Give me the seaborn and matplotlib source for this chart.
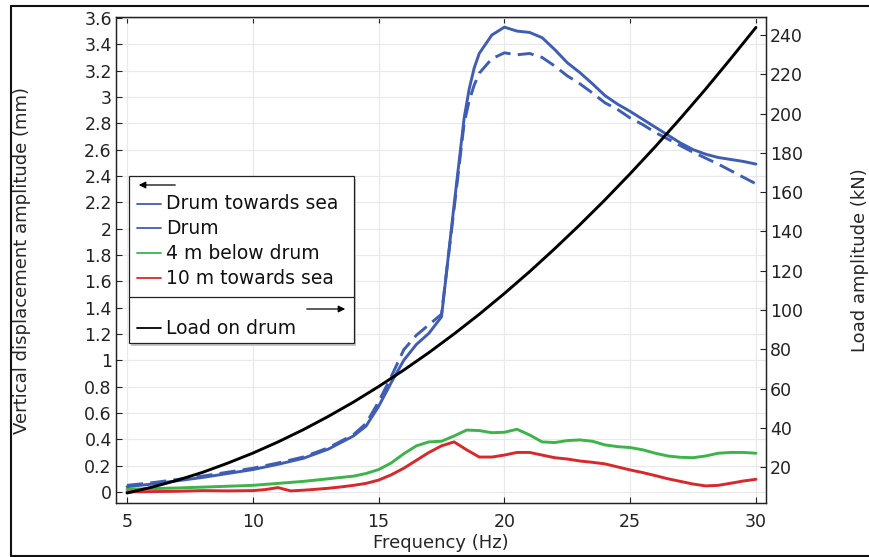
import matplotlib
matplotlib.use("Agg")
import matplotlib.pyplot as plt
import seaborn as sns
import pandas as pd
from matplotlib.lines import Line2D
from matplotlib.patches import Rectangle, FancyArrowPatch
from matplotlib.ticker import FormatStrFormatter, FixedLocator

# ---------------- data ----------------
freq_drum = [5, 6, 7, 8, 9, 10, 11, 12, 13, 14, 14.5, 15, 15.5, 16, 16.5, 17, 17.5,
             18, 18.4, 18.6, 18.8, 19, 19.5, 20, 20.5, 21, 21.5, 22, 22.5, 23, 23.5,
             24, 24.5, 25, 25.5, 26, 26.5, 27, 27.5, 28, 28.5, 29, 29.5, 30]
drum_towards_sea = [0.04, 0.06, 0.085, 0.11, 0.14, 0.17, 0.21, 0.255, 0.325, 0.425, 0.50,
                    0.65, 0.83, 1.0, 1.12, 1.205, 1.33, 2.18, 2.84, 3.06, 3.22, 3.33,
                    3.47, 3.53, 3.50, 3.49, 3.45, 3.36, 3.26, 3.185, 3.10, 3.01, 2.945,
                    2.89, 2.83, 2.77, 2.71, 2.65, 2.60, 2.565, 2.54, 2.525, 2.51, 2.49]
drum = [0.05, 0.07, 0.095, 0.12, 0.15, 0.18, 0.22, 0.265, 0.335, 0.435, 0.52,
        0.685, 0.875, 1.08, 1.19, 1.27, 1.35, 2.15, 2.80, 2.97, 3.09, 3.18,
        3.29, 3.335, 3.32, 3.33, 3.30, 3.235, 3.16, 3.10, 3.03, 2.955, 2.905,
        2.84, 2.79, 2.73, 2.68, 2.63, 2.58, 2.535, 2.49, 2.44, 2.39, 2.34]

freq_green = [5, 7, 10, 11, 12, 13, 14, 14.5, 15, 15.5, 16, 16.5, 17, 17.5, 18, 18.5,
              19, 19.5, 20, 20.5, 21, 21.5, 22, 22.5, 23, 23.5, 24, 24.5, 25, 25.5,
              26, 26.5, 27, 27.5, 28, 28.5, 29, 29.5, 30]
below_drum_4m = [0.02, 0.03, 0.05, 0.065, 0.08, 0.10, 0.12, 0.14, 0.17, 0.22, 0.29,
                 0.35, 0.38, 0.385, 0.425, 0.47, 0.466, 0.45, 0.453, 0.476, 0.433,
                 0.38, 0.375, 0.39, 0.395, 0.385, 0.357, 0.344, 0.337, 0.32, 0.294,
                 0.273, 0.263, 0.26, 0.273, 0.294, 0.30, 0.30, 0.294]

freq_red = [5, 7, 8, 9, 10, 10.5, 11, 11.5, 12, 12.5, 13, 13.5, 14, 14.5, 15, 15.5,
            16, 16.5, 17, 17.5, 18, 18.5, 19, 19.5, 20, 20.5, 21, 21.5, 22, 22.5,
            23, 23.5, 24, 24.5, 25, 25.5, 26, 26.5, 27, 27.5, 28, 28.5, 29, 29.5, 30]
towards_sea_10m = [0.0, 0.005, 0.01, 0.008, 0.01, 0.018, 0.033, 0.008, 0.013, 0.02,
                   0.028, 0.038, 0.05, 0.065, 0.09, 0.13, 0.18, 0.24, 0.30, 0.35,
                   0.38, 0.32, 0.265, 0.265, 0.28, 0.30, 0.30, 0.28, 0.26, 0.25,
                   0.235, 0.225, 0.213, 0.19, 0.167, 0.147, 0.124, 0.10, 0.08, 0.06,
                   0.046, 0.05, 0.066, 0.083, 0.096]

freq_load = list(range(5, 31))
load_on_drum = [6.8, 9.8, 13.3, 17.3, 22.0, 27.1, 32.8, 39.0, 45.8, 53.1, 61.0, 69.4,
                78.3, 87.8, 97.8, 108.4, 119.5, 131.2, 143.4, 156.1, 169.4, 183.2,
                197.6, 212.5, 228.0, 243.9]

labels = ["Drum towards sea", "Drum", "4 m below drum", "10 m towards sea", "Load on drum"]
x_ticks = [5, 10, 15, 20, 25, 30]
left_ticks = [round(0.2 * i, 1) for i in range(19)]
right_ticks = list(range(20, 241, 20))

# ---------------- style ----------------
sns.set_theme(style="white")
plt.rcParams["font.family"] = ["DejaVu Sans"]
plt.rcParams.update({
    "xtick.direction": "in", "ytick.direction": "in",
    "xtick.major.size": 4, "ytick.major.size": 4,
    "xtick.major.width": 0.8, "ytick.major.width": 0.8,
    "xtick.color": "#222222", "ytick.color": "#222222",
})

BLUE = "#3f5db4"
GREEN = "#3cb44a"
RED = "#d8282c"
BLACK = "#000000"

W, H = 869, 557
fig = plt.figure(figsize=(W / 100, H / 100), dpi=100)
ax = fig.add_axes([116 / W, 1 - 503 / H, 650 / W, 486 / H])

df_drum = pd.DataFrame({"f": freq_drum, "a": drum_towards_sea, "b": drum})
df_g = pd.DataFrame({"f": freq_green, "v": below_drum_4m})
df_r = pd.DataFrame({"f": freq_red, "v": towards_sea_10m})
df_l = pd.DataFrame({"f": freq_load, "v": load_on_drum})

sns.lineplot(data=df_drum, x="f", y="a", ax=ax, color=BLUE, linewidth=2.1,
             estimator=None, sort=False, zorder=4)
sns.lineplot(data=df_drum, x="f", y="b", ax=ax, color=BLUE, linewidth=2.1,
             linestyle=(0, (5.5, 2.5)), estimator=None, sort=False, zorder=4)
sns.lineplot(data=df_g, x="f", y="v", ax=ax, color=GREEN, linewidth=2.1,
             estimator=None, sort=False, zorder=3)
sns.lineplot(data=df_r, x="f", y="v", ax=ax, color=RED, linewidth=2.1,
             estimator=None, sort=False, zorder=3)

ax.set_xlim(4.56, 30.4)
ax.set_ylim(-0.084, 3.607)
ax.xaxis.set_major_locator(FixedLocator(x_ticks))
ax.yaxis.set_major_locator(FixedLocator(left_ticks))
ax.yaxis.set_major_formatter(FormatStrFormatter("%g"))
ax.tick_params(axis="both", labelsize=12.5, top=True, bottom=True,
               left=True, right=False)
ax.tick_params(axis="x", pad=7)
ax.tick_params(axis="y", pad=3)
ax.grid(True, color="#e9e9e9", linewidth=0.9)
ax.set_axisbelow(True)
for s in ax.spines.values():
    s.set_color("#222222")
    s.set_linewidth(0.9)

ax2 = ax.twinx()
sns.lineplot(data=df_l, x="f", y="v", ax=ax2, color=BLACK, linewidth=2.1,
             estimator=None, sort=False)
ax2.set_ylim(1.7, 249.2)
ax2.yaxis.set_major_locator(FixedLocator(right_ticks))
ax2.tick_params(axis="y", labelsize=12.5, direction="in", right=True, pad=3)
ax2.set_ylabel("Load amplitude (kN)", fontsize=13, labelpad=34)
ax2.grid(False)
for s in ax2.spines.values():
    s.set_color("#222222")
    s.set_linewidth(0.9)
ax.set_xlim(4.56, 30.4)
ax.set_xlabel("Frequency (Hz)", fontsize=13, labelpad=2)
ax.set_ylabel("Vertical displacement amplitude (mm)", fontsize=13, labelpad=38)

# ---------------- custom legend (figure pixel layout) ----------------
def fx(x):
    return x / W

def fy(y):
    return 1 - y / H

tf = fig.transFigure
fig.patches.append(Rectangle((fx(131), fy(346)), fx(354) - fx(129), fy(176) - fy(343),
                             transform=tf, facecolor="#c8c8c8", edgecolor="none",
                             zorder=9))
fig.patches.append(Rectangle((fx(129), fy(343)), fx(354) - fx(129), fy(176) - fy(343),
                             transform=tf, facecolor="white", edgecolor="#222222",
                             linewidth=0.9, zorder=10))
fig.lines.append(Line2D([fx(129), fx(354)], [fy(297), fy(297)], transform=tf,
                        color="#222222", linewidth=0.9, zorder=11))
fig.patches.append(FancyArrowPatch((fx(178), fy(185)), (fx(136), fy(185)), transform=tf,
                                   arrowstyle="-|>,head_length=4,head_width=2",
                                   mutation_scale=1, color="black", linewidth=0.9,
                                   zorder=11))
fig.patches.append(FancyArrowPatch((fx(304), fy(309)), (fx(348), fy(309)), transform=tf,
                                   arrowstyle="-|>,head_length=4,head_width=2",
                                   mutation_scale=1, color="black", linewidth=0.9,
                                   zorder=11))
rows = [(204, BLUE), (228, BLUE), (253, GREEN), (278, RED), (328, BLACK)]
for (yy, col), lab in zip(rows, labels):
    fig.lines.append(Line2D([fx(137), fx(161)], [fy(yy), fy(yy)], transform=tf,
                            color=col, linewidth=1.3, zorder=11))
    fig.text(fx(166), fy(yy), lab, fontsize=13.5, va="center", ha="left",
             zorder=12, color="#111111")

# outer frame (left, top, bottom)
for xs, ys in [([11, 11], [6, 556]), ([11, 870], [6, 6]), ([11, 870], [556, 556])]:
    fig.lines.append(Line2D([fx(v) for v in xs], [fy(v) for v in ys], transform=tf,
                            color="#111111", linewidth=1.5))

fig.savefig("out.png", dpi=100)
